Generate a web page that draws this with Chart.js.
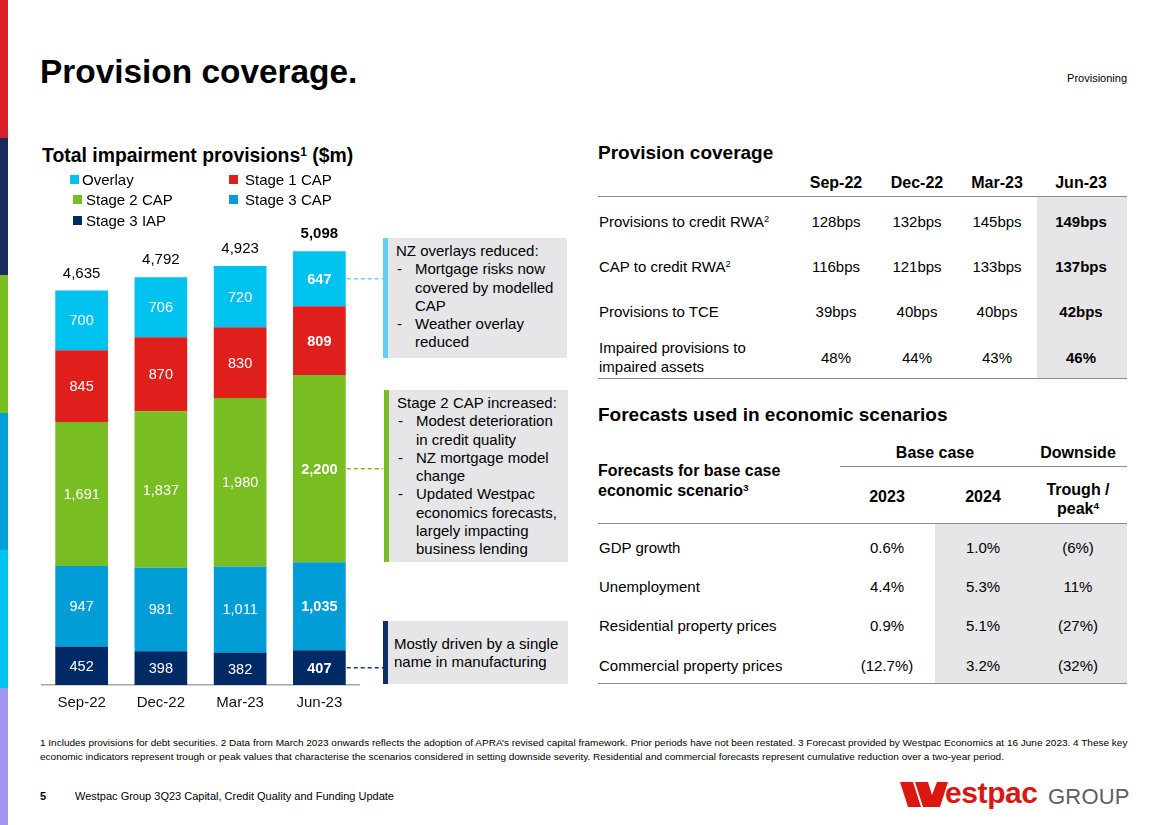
<!DOCTYPE html>
<html>
<head>
<meta charset="utf-8">
<title>Provision coverage</title>
<script src="https://cdn.jsdelivr.net/npm/chart.js@4.4.0/dist/chart.umd.min.js"></script>
<style>
  html, body { margin: 0; padding: 0; }
  body {
    width: 1168px; height: 825px; position: relative; overflow: hidden;
    background: #fff; color: #000;
    font-family: "Liberation Sans", Arial, sans-serif;
  }
  .t { position: absolute; white-space: nowrap; }
  sup { font-size: 0.62em; vertical-align: 0.5em; line-height: 0; }
  .stripe { position: absolute; left: 0; width: 8px; height: 137.5px; }
  .rule { position: absolute; height: 0; border-top: 1.5px solid #8c8c8c; }
  .shade { position: absolute; background: #e6e6e9; }
  .legend-sq { position: absolute; width: 9px; height: 9px; }
  .callout {
    position: absolute; background: #e6e6e9; box-sizing: border-box;
    border-left: 5px solid #000; font-size: 15px; line-height: 18.3px;
    padding: 4px 0 0 8px; white-space: nowrap;
  }
  .callout .item { position: relative; padding-left: 19px; }
  .callout .item span { position: absolute; left: 1px; top: 0; }
  #impairment-chart { position: absolute; left: 40px; top: 217px; }
  .foot { position: absolute; left: 40px; font-size: 9px; line-height: 14px; white-space: nowrap; transform-origin: 0 50%; }
</style>
</head>
<body>

<div class="stripe" style="top:0;background:#da1e28"></div>
<div class="stripe" style="top:137.5px;background:#1c2b5e"></div>
<div class="stripe" style="top:275px;background:#78be20"></div>
<div class="stripe" style="top:412.5px;background:#00a0d6"></div>
<div class="stripe" style="top:550px;background:#00c3f0"></div>
<div class="stripe" style="top:687.5px;background:#a096f2"></div>

<canvas id="impairment-chart" width="345" height="503"></canvas>

<div class="callout" style="left:383px;top:238px;width:184px;height:120px;border-left-color:#62d0f0">
  NZ overlays reduced:
  <div class="item"><span>-</span>Mortgage risks now<br>covered by modelled<br>CAP</div>
  <div class="item"><span>-</span>Weather overlay<br>reduced</div>
</div>
<div class="callout" style="left:384px;top:390px;width:184px;height:172px;border-left-color:#78bd22">
  Stage 2 CAP increased:
  <div class="item"><span>-</span>Modest deterioration<br>in credit quality</div>
  <div class="item"><span>-</span>NZ mortgage model<br>change</div>
  <div class="item"><span>-</span>Updated Westpac<br>economics forecasts,<br>largely impacting<br>business lending</div>
</div>
<div class="callout" style="left:383px;top:621px;width:185px;height:63px;border-left-color:#0d2d6b;padding-top:14px;padding-left:6px">
  Mostly driven by a single<br>name in manufacturing
</div>

<svg style="position:absolute;left:900px;top:782px" width="48" height="25" viewBox="0 0 48 25">
  <polygon points="0,0 13,0 21,25 8,25" fill="#da1710"/>
  <polygon points="15,0 28,0 32,13 37,0 48,0 40,25 23,25" fill="#da1710"/>
</svg>
<div class="t" style="left:945px;top:776px;font-size:30px;line-height:34px;font-weight:bold;color:#da1710;letter-spacing:-0.4px">estpac</div>
<div class="t" style="left:1048px;top:784px;font-size:22px;line-height:26px;color:#5e5e5e;letter-spacing:0.2px">GROUP</div>

<script>
// ---- data ----
var categories = ["Sep-22", "Dec-22", "Mar-23", "Jun-23"];
var stage3Iap = [452, 398, 382, 407];
var stage3Cap = [947, 981, 1011, 1035];
var stage2Cap = [1691, 1837, 1980, 2200];
var stage1Cap = [845, 870, 830, 809];
var overlay = [700, 706, 720, 647];

var coverageLabels = [
  "Provisions to credit RWA<sup>2</sup>",
  "CAP to credit RWA<sup>2</sup>",
  "Provisions to TCE",
  "Impaired provisions to<br>impaired assets"
];
var coverageValues = [
  ["128bps", "132bps", "145bps", "149bps"],
  ["116bps", "121bps", "133bps", "137bps"],
  ["39bps", "40bps", "40bps", "42bps"],
  ["48%", "44%", "43%", "46%"]
];

var forecastLabels = ["GDP growth", "Unemployment", "Residential property prices", "Commercial property prices"];
var forecast2023 = ["0.6%", "4.4%", "0.9%", "(12.7%)"];
var forecast2024 = ["1.0%", "5.3%", "5.1%", "3.2%"];
var forecastDownside = ["(6%)", "11%", "(27%)", "(32%)"];

var colors = {
  overlay: "#00c2ef",
  stage1: "#e01f1c",
  stage2: "#78bd22",
  stage3Cap: "#009dd7",
  stage3Iap: "#002a66"
};

// ---- text helpers ----
function put(html, x, y, opts) {
  opts = opts || {};
  var size = opts.size || 15;
  var lh = opts.lh || Math.round(size * 1.25);
  var d = document.createElement("div");
  d.className = "t";
  d.innerHTML = html;
  d.style.fontSize = size + "px";
  d.style.lineHeight = lh + "px";
  if (opts.bold) d.style.fontWeight = "bold";
  if (opts.color) d.style.color = opts.color;
  if (opts.align === "center") {
    d.style.left = (x - 100) + "px";
    d.style.width = "200px";
    d.style.textAlign = "center";
  } else if (opts.align === "right") {
    d.style.right = (1168 - x) + "px";
    d.style.textAlign = "right";
  } else {
    d.style.left = x + "px";
  }
  d.style.top = (y - lh / 2) + "px";
  document.body.appendChild(d);
  return d;
}
function rule(x1, x2, y) {
  var d = document.createElement("div");
  d.className = "rule";
  d.style.left = x1 + "px";
  d.style.width = (x2 - x1) + "px";
  d.style.top = (y - 0.75) + "px";
  document.body.appendChild(d);
}
function shade(x1, x2, y1, y2) {
  var d = document.createElement("div");
  d.className = "shade";
  d.style.left = x1 + "px";
  d.style.width = (x2 - x1) + "px";
  d.style.top = y1 + "px";
  d.style.height = (y2 - y1) + "px";
  document.body.appendChild(d);
}
function legendItem(color, label, x, textX, y) {
  var sq = document.createElement("div");
  sq.className = "legend-sq";
  sq.style.background = color;
  sq.style.left = x + "px";
  sq.style.top = (y - 4.5) + "px";
  document.body.appendChild(sq);
  put(label, textX, y, { size: 15 });
}

// ---- slide text ----
put("Provision coverage.", 40, 72, { size: 33.4, bold: true, lh: 40 });
put("Provisioning", 1127, 78, { size: 11, align: "right" });
put("Total impairment provisions<sup>1</sup> ($m)", 42, 155, { size: 19.4, bold: true });

legendItem(colors.overlay, "Overlay", 70, 82, 179);
legendItem(colors.stage1, "Stage 1 CAP", 229, 245, 179);
legendItem(colors.stage2, "Stage 2 CAP", 73, 86, 199);
legendItem(colors.stage3Cap, "Stage 3 CAP", 229, 245, 199);
legendItem(colors.stage3Iap, "Stage 3 IAP", 73, 86, 220);

// provision coverage table
var covCols = [836, 917, 997, 1081];
var covRows = [221, 266, 311, 357];
put("Provision coverage", 598, 153, { size: 19, bold: true });
shade(1037, 1127, 197, 379);
categories.forEach(function (c, i) {
  put(c, covCols[i], 183, { size: 16, bold: true, align: "center" });
});
rule(598, 1127, 197);
coverageLabels.forEach(function (label, r) {
  var twoLine = label.indexOf("<br>") >= 0;
  put(label, 599, twoLine ? covRows[r] - 9.5 : covRows[r], { size: 15, lh: 19 });
  coverageValues[r].forEach(function (v, i) {
    put(v, covCols[i], covRows[r], { size: 15, bold: i === 3, align: "center" });
  });
});
rule(598, 1127, 379);

// forecasts table
var fcCols = [887, 983, 1078];
var fcRows = [547, 586, 625, 665];
put("Forecasts used in economic scenarios", 598, 415, { size: 19, bold: true });
shade(935, 1127, 524, 684);
put("Base case", 935, 453, { size: 16, bold: true, align: "center" });
put("Downside", 1078, 453, { size: 16, bold: true, align: "center" });
rule(840, 1127, 467);
put("Forecasts for base case<br>economic scenario<sup>3</sup>", 598, 471, { size: 16, bold: true, lh: 20 });
put("2023", fcCols[0], 497, { size: 16, bold: true, align: "center" });
put("2024", fcCols[1], 497, { size: 16, bold: true, align: "center" });
put("Trough /<br>peak<sup>4</sup>", fcCols[2], 489, { size: 16, bold: true, align: "center", lh: 19 });
rule(598, 1127, 524);
forecastLabels.forEach(function (label, r) {
  put(label, 599, fcRows[r], { size: 15 });
  put(forecast2023[r], fcCols[0], fcRows[r], { size: 15, align: "center" });
  put(forecast2024[r], fcCols[1], fcRows[r], { size: 15, align: "center" });
  put(forecastDownside[r], fcCols[2], fcRows[r], { size: 15, align: "center" });
});
rule(598, 1127, 684);

// footnotes + footer
var f1 = document.createElement("div");
f1.className = "foot";
f1.style.top = "736px";
f1.innerHTML = "1 Includes provisions for debt securities. 2 Data from March 2023 onwards reflects the adoption of APRA\u2019s revised capital framework. Prior periods have not been restated. 3 Forecast provided by Westpac Economics at 16 June 2023. 4 These key";
document.body.appendChild(f1);
var f2 = document.createElement("div");
f2.className = "foot";
f2.style.top = "750px";
f2.innerHTML = "economic indicators represent trough or peak values that characterise the scenarios considered in setting downside severity. Residential and commercial forecasts represent cumulative reduction over a two-year period.";
document.body.appendChild(f2);
var fScale = 1087 / f1.scrollWidth;
f1.style.transform = "scaleX(" + fScale + ")";
f2.style.transform = "scaleX(" + fScale + ")";

put("5", 40, 796, { size: 11, bold: true });
put("Westpac Group 3Q23 Capital, Credit Quality and Funding Update", 75, 796, { size: 11 });

// ---- chart ----
Chart.defaults.font.family = "'Liberation Sans', Arial, sans-serif";

function fmt(v) {
  return Number(v).toLocaleString("en-US");
}

var valueLabels = {
  id: "valueLabels",
  afterDatasetsDraw: function (chart) {
    var ctx = chart.ctx;
    var sets = chart.data.datasets;
    var last = categories.length - 1;
    ctx.save();
    ctx.textAlign = "center";
    ctx.textBaseline = "middle";
    sets.forEach(function (ds, di) {
      chart.getDatasetMeta(di).data.forEach(function (bar, i) {
        ctx.font = (i === last ? "bold " : "") + "14.5px 'Liberation Sans', Arial, sans-serif";
        ctx.fillStyle = "#ffffff";
        ctx.fillText(fmt(ds.data[i]), bar.x, (bar.y + bar.base) / 2 + 1);
      });
    });
    // totals on top of each stack
    chart.getDatasetMeta(sets.length - 1).data.forEach(function (bar, i) {
      var total = 0;
      sets.forEach(function (ds) { total += ds.data[i]; });
      ctx.font = (i === last ? "bold " : "") + "15px 'Liberation Sans', Arial, sans-serif";
      ctx.fillStyle = "#000";
      ctx.fillText(fmt(total), bar.x, bar.y - 17);
    });
    // dashed connectors from the latest bar to the callouts
    var endX = chart.width - 2;
    ctx.lineWidth = 1.5;
    ctx.setLineDash([4, 3]);
    sets.forEach(function (ds, di) {
      if (!ds.connector) return;
      var bar = chart.getDatasetMeta(di).data[last];
      var y = (bar.y + bar.base) / 2;
      ctx.strokeStyle = ds.connector;
      ctx.beginPath();
      ctx.moveTo(bar.x + bar.width / 2 + 1, y);
      ctx.lineTo(endX, y);
      ctx.stroke();
    });
    ctx.restore();
  }
};

new Chart(document.getElementById("impairment-chart"), {
  type: "bar",
  data: {
    labels: categories,
    datasets: [
      { label: "Stage 3 IAP", data: stage3Iap, backgroundColor: colors.stage3Iap, connector: "#1b3a70" },
      { label: "Stage 3 CAP", data: stage3Cap, backgroundColor: colors.stage3Cap },
      { label: "Stage 2 CAP", data: stage2Cap, backgroundColor: colors.stage2, connector: "#78bd22" },
      { label: "Stage 1 CAP", data: stage1Cap, backgroundColor: colors.stage1 },
      { label: "Overlay", data: overlay, backgroundColor: colors.overlay, connector: "#62d0f0" }
    ]
  },
  options: {
    responsive: false,
    animation: false,
    layout: { padding: { left: 2, right: 26, top: 0, bottom: 0 } },
    datasets: { bar: { barPercentage: 0.665, categoryPercentage: 1 } },
    plugins: {
      legend: { display: false },
      tooltip: { enabled: false }
    },
    scales: {
      x: {
        stacked: true,
        grid: { display: false, drawTicks: false },
        border: { display: true, color: "#a6a6a6", width: 1.5 },
        ticks: { color: "#111", font: { size: 15 }, padding: 9 },
        afterFit: function (scale) { scale.height = 35; }
      },
      y: { stacked: true, display: false, min: 0, max: 5500 }
    }
  },
  plugins: [valueLabels]
});
</script>
</body>
</html>
